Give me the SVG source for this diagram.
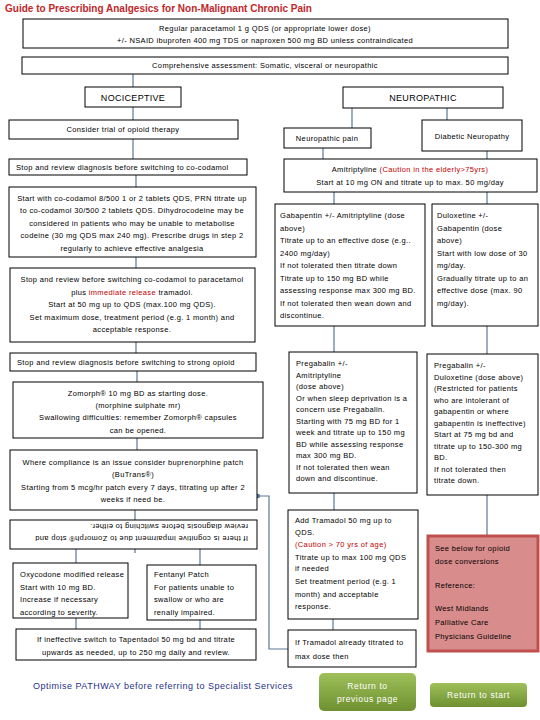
<svg xmlns="http://www.w3.org/2000/svg" width="540" height="720" viewBox="0 0 540 720">
<defs>
<style>
.box{fill:#fff;stroke:#000;stroke-width:1}
.t{font-family:"Liberation Sans","Open Sans",sans-serif;font-size:7.5px;letter-spacing:0.35px;fill:#000}
.c{text-anchor:middle}
.h{font-family:"Liberation Sans",sans-serif;font-size:9px;letter-spacing:0.3px;fill:#000;text-anchor:middle}
.red{fill:#C00000}
.conn{stroke:#5B7896;stroke-width:1.2;fill:none}
.btn{font-family:"Liberation Sans",sans-serif;font-size:8.5px;fill:#fff;text-anchor:middle;letter-spacing:0.6px}
</style>
<linearGradient id="g" x1="0" y1="0" x2="0" y2="1">
<stop offset="0" stop-color="#9FC05A"/>
<stop offset="1" stop-color="#6E9030"/>
</linearGradient>
<marker id="dot" markerWidth="6" markerHeight="6" refX="3" refY="3" markerUnits="userSpaceOnUse">
<circle cx="3" cy="3" r="2.2" fill="#5B7896"/>
</marker>
</defs>
<rect width="540" height="720" fill="#fff"/>
<text x="5" y="12" font-family="Liberation Sans,sans-serif" font-weight="bold" font-size="11.5" fill="#C0282A" textLength="307" lengthAdjust="spacingAndGlyphs">Guide to Prescribing Analgesics for Non-Malignant Chronic Pain</text>

<g id="connectors">
<path class="conn" d="M133,74V87M133,107V120M133,139V159M136,175V187M136,257V268M136,342V353M137,371V382M137,438V450M135,510V520M76,549V563M200,549V565M135,549V553M76,618V629M200,620V629"/>
<path class="conn" d="M352,108V128M447,108V120M323,148V159M487,151V159M334,192V204M487,192V204M334,326V352M487,326V354M334,493V510M487,495V535M333,619V630"/>
<path class="conn" d="M288,649H269V496H258" marker-end="url(#dot)"/>
</g>

<g id="n_paracetamol"><rect class="box" x="23" y="19" width="485" height="29"/>
<text class="t c" x="265" y="31">Regular paracetamol 1 g QDS (or appropriate lower dose)</text>
<text class="t c" x="265" y="43">+/- NSAID ibuprofen 400 mg TDS or naproxen 500 mg BD unless contraindicated</text></g>

<g id="n_assess"><rect class="box" x="22" y="57" width="486" height="17"/>
<text class="t c" x="265" y="68">Comprehensive assessment: Somatic, visceral or neuropathic</text></g>

<g id="n_noci"><rect class="box" x="85" y="87" width="96" height="20"/>
<text class="h" x="133" y="100.5">NOCICEPTIVE</text></g>

<g id="n_neuro"><rect class="box" x="343" y="87" width="160" height="21"/>
<text class="h" x="423" y="100.5">NEUROPATHIC</text></g>

<g id="n_trial"><rect class="box" x="9" y="120" width="229" height="19"/>
<text class="t c" x="123" y="132">Consider trial of opioid therapy</text></g>

<g id="n_stop1"><rect class="box" x="9" y="159" width="238" height="16"/>
<text class="t" x="16" y="170">Stop and review diagnosis before switching to co-codamol</text></g>

<g id="n_cocodamol"><rect class="box" x="9" y="187" width="247" height="70"/>
<text class="t c" x="132" y="200.5">Start with co-codamol 8/500 1 or 2 tablets QDS, PRN titrate up</text>
<text class="t c" x="132" y="213">to co-codamol 30/500 2 tablets QDS. Dihydrocodeine may be</text>
<text class="t c" x="132" y="225.5">considered in patients who may be unable to metabolise</text>
<text class="t c" x="132" y="238">codeine (30 mg QDS max 240 mg). Prescribe drugs in step 2</text>
<text class="t c" x="132" y="250.5">regularly to achieve effective analgesia</text></g>

<g id="n_tramadol_ir"><rect class="box" x="10" y="268" width="245" height="74"/>
<text class="t c" x="132" y="282">Stop and review before switching co-codamol to paracetamol</text>
<text class="t c" x="132" y="294.5">plus <tspan class="red">immediate release</tspan> tramadol.</text>
<text class="t c" x="132" y="307">Start at 50 mg up to QDS (max.100 mg QDS).</text>
<text class="t c" x="132" y="319.5">Set maximum dose, treatment period (e.g. 1 month) and</text>
<text class="t c" x="132" y="332">acceptable response.</text></g>

<g id="n_stop2"><rect class="box" x="10" y="353" width="246" height="18"/>
<text class="t" x="17" y="365">Stop and review diagnosis before switching to strong opioid</text></g>

<g id="n_zomorph"><rect class="box" x="13" y="382" width="250" height="56"/>
<text class="t c" x="138" y="395.5">Zomorph® 10 mg BD as starting dose.</text>
<text class="t c" x="138" y="407.5">(morphine sulphate mr)</text>
<text class="t c" x="138" y="420">Swallowing difficulties: remember Zomorph® capsules</text>
<text class="t c" x="138" y="432.5">can be opened.</text></g>

<g id="n_bupren"><rect class="box" x="10" y="450" width="247" height="60"/>
<text class="t c" x="133" y="464.5">Where compliance is an issue consider buprenorphine patch</text>
<text class="t c" x="133" y="477">(BuTrans®)</text>
<text class="t c" x="133" y="489.5" letter-spacing="0.2">Starting from 5 mcg/hr patch every 7 days, titrating up after 2</text>
<text class="t c" x="133" y="502">weeks if need be.</text></g>

<g id="n_cognitive"><rect class="box" x="10" y="520" width="247" height="29"/>
<g transform="rotate(180 133.5 534.5)">
<text class="t" x="19" y="533">If there is cognitive impairment due to Zomorph® stop and</text>
<text class="t" x="19" y="545">review diagnosis before switching to either.</text></g></g>

<g id="n_oxy"><rect class="box" x="13" y="563" width="115" height="55"/>
<text class="t" x="20" y="577">Oxycodone modified release</text>
<text class="t" x="20" y="589.5">Start with 10 mg BD.</text>
<text class="t" x="20" y="602">Increase if necessary</text>
<text class="t" x="20" y="614.5">according to severity.</text></g>

<g id="n_fentanyl"><rect class="box" x="147" y="565" width="109" height="55"/>
<text class="t" x="154" y="577">Fentanyl Patch</text>
<text class="t" x="154" y="589.5"> For patients unable to</text>
<text class="t" x="154" y="602">swallow or who are</text>
<text class="t" x="154" y="614.5">renally impaired.</text></g>

<g id="n_tapentadol"><rect class="box" x="16" y="629" width="240" height="31"/>
<text class="t c" x="136" y="642">If ineffective switch to Tapentadol 50 mg bd and titrate</text>
<text class="t c" x="136" y="654.5">upwards as needed, up to 250 mg daily and review.</text></g>

<text x="33" y="689" font-family="Liberation Sans,sans-serif" font-size="9" fill="#1F2F8A" letter-spacing="0.5">Optimise PATHWAY before referring to Specialist Services</text>

<g id="n_neuropain"><rect class="box" x="284" y="128" width="87" height="20"/>
<text class="t c" x="327" y="141" font-size="8">Neuropathic pain</text></g>

<g id="n_diabetic"><rect class="box" x="422" y="120" width="100" height="31"/>
<text class="t c" x="472" y="139" font-size="8">Diabetic Neuropathy</text></g>

<g id="n_amitrip"><rect class="box" x="284" y="159" width="253" height="33"/>
<text class="t c" x="410" y="172">Amitriptyline <tspan class="red">(Caution in the elderly&gt;75yrs)</tspan></text>
<text class="t c" x="410" y="185">Start at 10 mg ON and titrate up to max. 50 mg/day</text></g>

<g id="n_gabapentin"><rect class="box" x="275" y="204" width="150" height="122"/>
<text class="t" x="280" y="218">Gabapentin +/- Amitriptyline (dose</text>
<text class="t" x="280" y="230.5">above)</text>
<text class="t" x="280" y="243">Titrate up to an effective dose (e.g..</text>
<text class="t" x="280" y="255.5">2400 mg/day)</text>
<text class="t" x="280" y="268">If not tolerated then titrate down</text>
<text class="t" x="280" y="280.5"> Titrate up to 150 mg BD while</text>
<text class="t" x="280" y="293">assessing response max 300 mg BD.</text>
<text class="t" x="280" y="305.5">If not tolerated then wean down and</text>
<text class="t" x="280" y="318">discontinue.</text></g>

<g id="n_duloxetine"><rect class="box" x="432" y="204" width="106" height="122"/>
<text class="t" x="437" y="218">Duloxetine +/-</text>
<text class="t" x="437" y="230.5">Gabapentin (dose</text>
<text class="t" x="437" y="243">above)</text>
<text class="t" x="437" y="255.5">Start with low dose of 30</text>
<text class="t" x="437" y="268">mg/day.</text>
<text class="t" x="437" y="280.5">Gradually titrate up to an</text>
<text class="t" x="437" y="293">effective dose (max. 90</text>
<text class="t" x="437" y="305.5">mg/day).</text></g>

<g id="n_pregab_ami"><rect class="box" x="289" y="352" width="128" height="141"/>
<text class="t" x="296" y="366">Pregabalin +/-</text>
<text class="t" x="296" y="377.5">Amitriptyline</text>
<text class="t" x="296" y="389">(dose above)</text>
<text class="t" x="296" y="400.5">Or when sleep deprivation is a</text>
<text class="t" x="296" y="412">concern use Pregabalin.</text>
<text class="t" x="296" y="423.5">Starting with 75 mg BD for 1</text>
<text class="t" x="296" y="435">week and titrate up to 150 mg</text>
<text class="t" x="296" y="446.5">BD while assessing response</text>
<text class="t" x="296" y="458">max 300 mg BD.</text>
<text class="t" x="296" y="469.5">If not tolerated then wean</text>
<text class="t" x="296" y="481">down and discontinue.</text></g>

<g id="n_pregab_dul"><rect class="box" x="427" y="354" width="111" height="141"/>
<text class="t" x="434" y="368">Pregabalin +/-</text>
<text class="t" x="434" y="379.5">Duloxetine (dose above)</text>
<text class="t" x="434" y="391">(Restricted for patients</text>
<text class="t" x="434" y="402.5">who are intolerant of</text>
<text class="t" x="434" y="414">gabapentin or where</text>
<text class="t" x="434" y="425.5">gabapentin is ineffective)</text>
<text class="t" x="434" y="437">Start at 75 mg bd and</text>
<text class="t" x="434" y="448.5">titrate up to 150-300 mg</text>
<text class="t" x="434" y="460">BD.</text>
<text class="t" x="434" y="471.5">If not tolerated then</text>
<text class="t" x="434" y="483">titrate down.</text></g>

<g id="n_add_tramadol"><rect class="box" x="288" y="510" width="130" height="109"/>
<text class="t" x="295" y="522.5">Add Tramadol 50 mg up to</text>
<text class="t" x="295" y="534.5">QDS.</text>
<text class="t red" x="295" y="547">(Caution &gt; 70 yrs of age)</text>
<text class="t" x="295" y="559.5">Titrate up to max 100 mg QDS</text>
<text class="t" x="295" y="571">if needed</text>
<text class="t" x="295" y="583.5">Set treatment period (e.g. 1</text>
<text class="t" x="295" y="596.5">month) and acceptable</text>
<text class="t" x="295" y="609">response.</text></g>

<g id="n_tramadol_max"><rect class="box" x="288" y="630" width="128" height="37"/>
<text class="t" x="295" y="645">If Tramadol already titrated to</text>
<text class="t" x="295" y="658.5">max dose then</text></g>

<g id="n_reference"><rect x="428" y="536" width="110" height="115" fill="#D98C8C" stroke="#C0504D" stroke-width="3"/>
<text class="t" x="435" y="551" font-size="7.8">See below for opioid</text>
<text class="t" x="435" y="564" font-size="7.8">dose conversions</text>
<text class="t" x="435" y="588" font-size="7.8">Reference:</text>
<text class="t" x="435" y="611" font-size="7.8">West Midlands</text>
<text class="t" x="435" y="625" font-size="7.8">Palliative Care</text>
<text class="t" x="435" y="638.5" font-size="7.8">Physicians Guideline</text></g>

<g id="btn_prev"><rect x="319" y="673" width="97" height="38" rx="5" fill="url(#g)"/>
<text class="btn" x="367.5" y="689">Return to</text>
<text class="btn" x="367.5" y="702">previous page</text></g>

<g id="btn_start"><rect x="430" y="683" width="97" height="24" rx="4" fill="url(#g)"/>
<text class="btn" x="478.5" y="698">Return to start</text></g>
</svg>
